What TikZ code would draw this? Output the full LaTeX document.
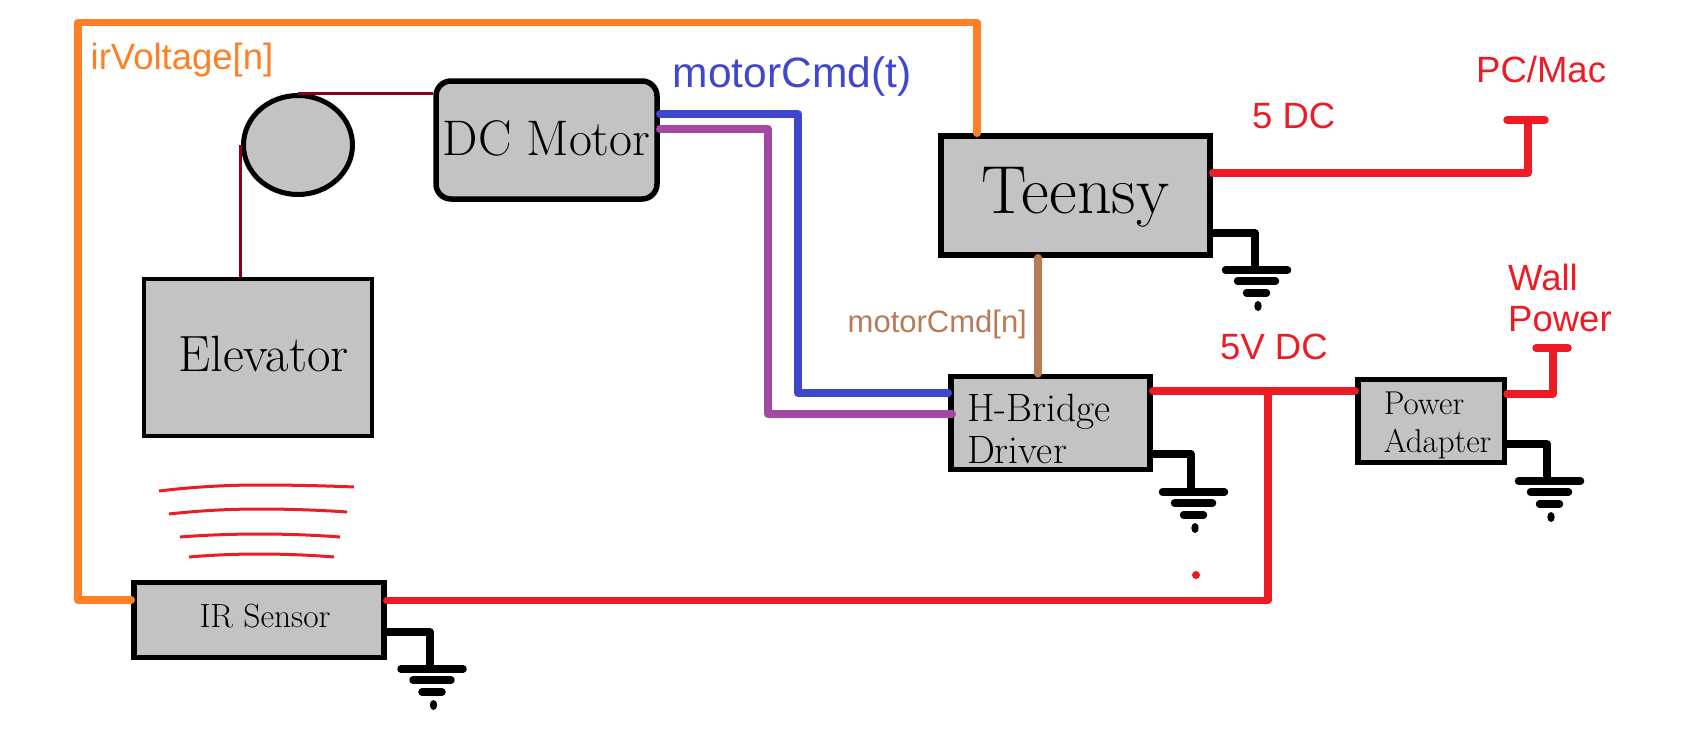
\documentclass[tikz,border=0pt]{standalone}
\usepackage{fontspec}
\usetikzlibrary{shapes.geometric}
\newfontfamily\labelfont{Liberation Sans}
\definecolor{wireorange}{HTML}{FF7F27}
\definecolor{wireblue}{HTML}{3F48CC}
\definecolor{wirepurple}{HTML}{A349A4}
\definecolor{wirebrown}{HTML}{B97A57}
\definecolor{wirered}{HTML}{ED1C24}
\definecolor{cablered}{HTML}{880015}
\definecolor{boxgray}{HTML}{C3C3C3}
\newcommand{\pxfont}[2]{\fontsize{#1}{#2}\selectfont}
\tikzset{
    block/.style={draw, fill=boxgray, line width=5.5pt, inner sep=0pt},
    wire/.style={line width=7.5pt, line cap=round, line join=round},
    gndwire/.style={wire, black},
    cable/.style={line width=3pt, cablered},
    irwave/.style={line width=3pt, wirered},
    siglabel/.style={font=\labelfont\pxfont{36.5}{41}, inner sep=0pt, anchor=base west, align=left},
    gndsym/.pic={
        \draw[gndwire] (-31,0) -- (31,0);
        \draw[gndwire] (-19,11) -- (19,11);
        \draw[gndwire] (-10,23) -- (10,23);
        \fill (1.5,36) ellipse [x radius=3.7, y radius=5];
    }
}
\begin{document}
\begin{tikzpicture}[x=1pt, y=-1pt]
    \useasboundingbox (0,0) rectangle (1690,747);

    \node[block, minimum width=269pt, minimum height=119pt, text height=40pt, text depth=5pt, font=\pxfont{68}{70}] (teensy) at (1075.5,195.5) {Teensy\hspace{2pt}};
    \node[block, rounded corners=15pt, minimum width=221pt, minimum height=118pt, text height=33pt, text depth=3pt, font=\pxfont{50}{52}] (motor) at (546.5,140) {DC Motor};
    \node[block, line width=3.5pt, minimum width=228pt, minimum height=157pt, text height=35pt, text depth=8pt, font=\pxfont{51}{53}] (elevator) at (258,357.5) {\hspace{11pt}Elevator};
    \node[block, ellipse, line width=5pt, minimum width=109pt, minimum height=99pt] (pulley) at (298,145) {};
    \node[block, minimum width=250pt, minimum height=75pt, text height=22pt, text depth=8pt, font=\pxfont{33.5}{35}] (irsensor) at (259,620) {\hspace{12pt}IR Sensor};
    \node[block, minimum width=199pt, minimum height=93pt, text width=199pt, align=left, font=\pxfont{39.5}{42}] (hbridge) at (1050.5,423) {\rule{0pt}{40pt}\hspace*{16pt}H-Bridge\\\hspace*{16pt}Driver};
    \node[block, minimum width=146.5pt, minimum height=83pt, text width=146.5pt, align=left, font=\pxfont{33}{38}] (adapter) at (1431,421) {\rule{0pt}{31pt}\hspace*{26pt}Power\\\hspace*{26pt}Adapter};

    \coordinate (cablerun) at (240,145);
    \draw[cable] (pulley.north) -- (pulley.north -| motor.west);
    \draw[cable] (cablerun) -- (cablerun |- elevator.north);

    \coordinate (irvleft) at (78,600);
    \coordinate (irvtop) at (78,22.5);
    \coordinate (irvright) at (977,22.5);
    \draw[wire, wireorange] (irvleft -| irsensor.west) -- (irvleft) -- (irvtop) -- (irvright) -- (irvright |- teensy.north);

    \coordinate (blueA) at (798,114);
    \coordinate (blueB) at (798,393);
    \draw[wire, wireblue] (blueA -| motor.east) -- (blueA) -- (blueB) -- (blueB -| hbridge.west);
    \coordinate (purpleA) at (768,129);
    \coordinate (purpleB) at (768,414);
    \draw[wire, wirepurple, shorten >=-4pt] (purpleA -| motor.east) -- (purpleA) -- (purpleB) -- (purpleB -| hbridge.west);
    \coordinate (cmdrun) at (1038,320);
    \draw[wire, wirebrown] (cmdrun |- teensy.south) -- (cmdrun |- hbridge.north);

    \coordinate (pcrun) at (1528,173);
    \coordinate (pctee) at (1528,120);
    \coordinate (pcleft) at (1507,120);
    \coordinate (pcright) at (1545,120);
    \draw[wire, wirered] (pcrun -| teensy.east) -- (pcrun) -- (pctee);
    \draw[wire, wirered] (pcleft) -- (pcright);

    \coordinate (railtap) at (1268,391);
    \coordinate (irrun) at (1268,600.5);
    \draw[wire, wirered] (railtap -| hbridge.east) -- (railtap -| adapter.west);
    \draw[wire, wirered] (irrun -| irsensor.east) -- (irrun) -- (railtap);

    \coordinate (wallrun) at (1553,394);
    \coordinate (walltee) at (1553,348);
    \coordinate (wallleft) at (1536,348);
    \coordinate (wallright) at (1568,348);
    \draw[wire, wirered] (wallrun -| adapter.east) -- (wallrun) -- (walltee);
    \draw[wire, wirered] (wallleft) -- (wallright);

    \coordinate (teensystem) at (1255,233);
    \coordinate (teensygnd) at (1256.5,270);
    \draw[gndwire] (teensystem -| teensy.east) -- (teensystem) -- (teensystem |- teensygnd);
    \pic at (teensygnd) {gndsym};
    \coordinate (hbridgestem) at (1191,454);
    \coordinate (hbridgegnd) at (1193.5,492);
    \draw[gndwire] (hbridgestem -| hbridge.east) -- (hbridgestem) -- (hbridgestem |- hbridgegnd);
    \pic at (hbridgegnd) {gndsym};
    \coordinate (adapterstem) at (1547,444);
    \coordinate (adaptergnd) at (1549.5,481);
    \draw[gndwire] (adapterstem -| adapter.east) -- (adapterstem) -- (adapterstem |- adaptergnd);
    \pic at (adaptergnd) {gndsym};
    \coordinate (irstem) at (430,632);
    \coordinate (irgnd) at (432,669);
    \draw[gndwire] (irstem -| irsensor.east) -- (irstem) -- (irstem |- irgnd);
    \pic at (irgnd) {gndsym};

    \foreach \xa/\ya/\xm/\ym/\xb/\yb in {159/491/259/485/354/487, 169/514/259/509/347/512, 180/537/259/534/340/537, 189/557/259/554/334/557}
        \draw[irwave] (\xa,\ya) parabola bend (\xm,\ym) (\xb,\yb);
    \node[circle, fill=wirered, inner sep=0pt, minimum size=8pt] (straydot) at (1196,575) {};

    \node[siglabel, text=wireorange] (irvlabel) at (90.5,69) {irVoltage[n]};
    \node[siglabel, text=wireblue, font=\labelfont\pxfont{42.5}{44}] (motortlabel) at (672.5,87) {motorCmd(t)};
    \node[siglabel, text=wirebrown, font=\labelfont\pxfont{31}{33}] (motornlabel) at (847.5,332) {motorCmd[n]};
    \node[siglabel, text=wirered] (dclabel) at (1252,128) {5 DC};
    \node[siglabel, text=wirered] (pclabel) at (1476,82) {PC/Mac};
    \node[siglabel, text=wirered] (raillabel) at (1220,359) {5V DC};
    \node[siglabel, text=wirered, anchor=north west] (walllabel) at (1508,264) {Wall\\Power};
\end{tikzpicture}
\end{document}
